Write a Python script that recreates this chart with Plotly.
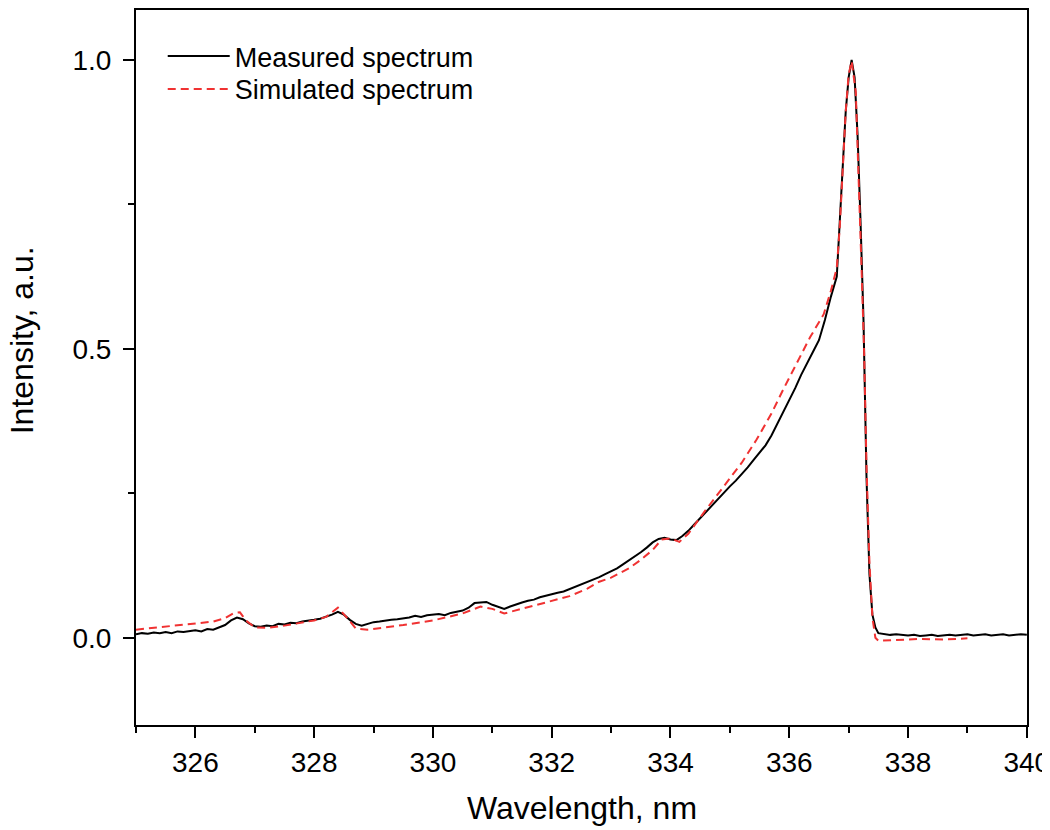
import plotly.graph_objects as go

# Measured spectrum (wavelength nm, normalized intensity)
meas_wl = [325.0, 325.1, 325.2, 325.3, 325.4, 325.5, 325.6, 325.7, 325.8, 325.9,
           326.0, 326.1, 326.2, 326.3, 326.4, 326.5, 326.6, 326.7, 326.8, 326.9,
           327.0, 327.1, 327.2, 327.3, 327.4, 327.5, 327.6, 327.7, 327.8, 327.9,
           328.0, 328.1, 328.2, 328.3, 328.4, 328.5, 328.6, 328.7, 328.8, 328.9,
           329.0, 329.1, 329.2, 329.3, 329.4, 329.5, 329.6, 329.7, 329.8, 329.9,
           330.0, 330.1, 330.2, 330.3, 330.4, 330.5, 330.6, 330.7, 330.8, 330.9,
           331.0, 331.1, 331.2, 331.3, 331.4, 331.5, 331.6, 331.7, 331.8, 331.9,
           332.0, 332.1, 332.2, 332.3, 332.4, 332.5, 332.6, 332.7, 332.8, 332.9,
           333.0, 333.1, 333.2, 333.3, 333.4, 333.5, 333.6, 333.7, 333.8, 333.9,
           334.0, 334.1, 334.2, 334.3, 334.4, 334.5, 334.6, 334.7, 334.8, 334.9,
           335.0, 335.1, 335.2, 335.3, 335.4, 335.5, 335.6, 335.7, 335.8, 335.9,
           336.0, 336.1, 336.2, 336.3, 336.4, 336.5, 336.6, 336.7, 336.75, 336.8,
           336.85, 336.9, 336.95, 337.0, 337.05, 337.1, 337.15, 337.2, 337.25, 337.3,
           337.35, 337.4, 337.45, 337.5, 337.6, 337.7, 337.8, 337.9, 338.0, 338.1,
           338.2, 338.3, 338.4, 338.5, 338.6, 338.7, 338.8, 338.9, 339.0, 339.1,
           339.2, 339.3, 339.4, 339.5, 339.6, 339.7, 339.8, 339.9, 340.0]
meas_int = [0.006, 0.008, 0.007, 0.009, 0.008, 0.010, 0.008, 0.011, 0.010, 0.012,
            0.013, 0.011, 0.015, 0.014, 0.018, 0.022, 0.030, 0.035, 0.032, 0.025,
            0.020, 0.019, 0.021, 0.020, 0.024, 0.023, 0.026, 0.025, 0.028, 0.029,
            0.031, 0.033, 0.036, 0.040, 0.045, 0.040, 0.031, 0.024, 0.021, 0.024,
            0.027, 0.028, 0.030, 0.031, 0.032, 0.033, 0.035, 0.038, 0.036, 0.039,
            0.040, 0.041, 0.039, 0.043, 0.045, 0.047, 0.052, 0.060, 0.061, 0.062,
            0.057, 0.053, 0.050, 0.054, 0.058, 0.061, 0.064, 0.066, 0.070, 0.073,
            0.075, 0.078, 0.080, 0.084, 0.088, 0.092, 0.096, 0.101, 0.105, 0.110,
            0.115, 0.120, 0.127, 0.134, 0.140, 0.148, 0.156, 0.165, 0.171, 0.173,
            0.170, 0.169, 0.176, 0.185, 0.196, 0.207, 0.218, 0.230, 0.241, 0.252,
            0.262, 0.272, 0.283, 0.295, 0.308, 0.320, 0.333, 0.350, 0.370, 0.390,
            0.410, 0.432, 0.455, 0.476, 0.495, 0.515, 0.550, 0.590, 0.607, 0.625,
            0.720, 0.820, 0.910, 0.970, 1.000, 0.970, 0.870, 0.720, 0.550, 0.280,
            0.110, 0.040, 0.018, 0.008, 0.006, 0.005, 0.006, 0.005, 0.004, 0.005,
            0.003, 0.004, 0.005, 0.003, 0.004, 0.005, 0.004, 0.005, 0.006, 0.004,
            0.005, 0.006, 0.004, 0.005, 0.006, 0.004, 0.005, 0.006, 0.005]

# Simulated spectrum
sim_wl = [325.0, 325.5, 326.0, 326.3, 326.5, 326.65, 326.75, 326.85, 327.0, 327.2,
          327.5, 328.0, 328.2, 328.4, 328.55, 328.7, 328.9, 329.5, 330.0, 330.5,
          330.8, 331.0, 331.2, 331.5, 331.8, 332.0, 332.3, 332.6, 332.8, 333.0,
          333.3, 333.5, 333.7, 333.85, 334.0, 334.15, 334.3, 334.6, 334.9, 335.2,
          335.45, 335.7, 335.9, 336.15, 336.35, 336.58, 336.7, 336.8, 336.85, 336.9,
          336.95, 337.0, 337.05, 337.12, 337.17, 337.22, 337.26, 337.3, 337.35, 337.4,
          337.45, 337.5, 337.8, 338.2, 338.6, 339.0]
sim_int = [0.014, 0.019, 0.024, 0.028, 0.034, 0.043, 0.044, 0.030, 0.018, 0.017,
           0.021, 0.030, 0.036, 0.052, 0.035, 0.016, 0.014, 0.022, 0.030, 0.042,
           0.054, 0.050, 0.042, 0.050, 0.058, 0.063, 0.072, 0.085, 0.097, 0.104,
           0.120, 0.135, 0.152, 0.170, 0.172, 0.166, 0.180, 0.222, 0.262, 0.303,
           0.343, 0.388, 0.430, 0.480, 0.520, 0.560, 0.600, 0.640, 0.710, 0.810,
           0.910, 0.975, 0.998, 0.945, 0.800, 0.630, 0.496, 0.300, 0.130, 0.035,
           0.000, -0.005, -0.004, -0.002, -0.003, -0.001]

x_ticks = [326, 328, 330, 332, 334, 336, 338, 340]
y_ticks = [0.0, 0.5, 1.0]
y_tick_labels = ["0.0", "0.5", "1.0"]

FONT = "Arial, Liberation Sans, sans-serif"

fig = go.Figure()
fig.add_trace(go.Scatter(x=meas_wl, y=meas_int, mode="lines", name="Measured spectrum",
                         line=dict(color="black", width=2), legend="legend"))
fig.add_trace(go.Scatter(x=sim_wl, y=sim_int, mode="lines", name="Simulated spectrum",
                         line=dict(color="rgb(240,50,50)", width=2, dash="8px,5px"),
                         legend="legend2"))

axis_common = dict(showline=True, linecolor="black", linewidth=2, mirror=True,
                   ticks="outside", ticklen=11, tickwidth=2, tickcolor="black",
                   showgrid=False, zeroline=False, ticklabeloverflow="allow",
                   tickfont=dict(family=FONT, size=28, color="black"))

fig.update_xaxes(range=[325, 340.003], tickvals=x_ticks,
                 minor=dict(dtick=1, ticks="outside", ticklen=6, tickwidth=2, tickcolor="black", showgrid=False),
                 **axis_common)
fig.update_yaxes(range=[-0.151, 1.0865], tickvals=y_ticks, ticktext=y_tick_labels,
                 ticklabelstandoff=6,
                 minor=dict(dtick=0.25, ticks="outside", ticklen=6, tickwidth=2, tickcolor="black", showgrid=False),
                 **axis_common)

legend_style = dict(xanchor="left", yanchor="top", itemwidth=62,
                    bgcolor="rgba(0,0,0,0)", font=dict(family=FONT, size=27, color="black"))

fig.update_layout(
    width=1042, height=822,
    margin=dict(l=128, r=22, t=0, b=105),
    paper_bgcolor="white", plot_bgcolor="white",
    font=dict(family=FONT, color="black"),
    showlegend=True,
    legend=dict(x=0.030, y=0.9693, **legend_style),
    legend2=dict(x=0.030, y=0.9233, **legend_style),
    annotations=[
        dict(text="Wavelength, nm", xref="paper", yref="paper", x=0.5, y=-0.1158,
             xanchor="center", yanchor="middle", showarrow=False,
             font=dict(family=FONT, size=32, color="black")),
        dict(text="Intensity, a.u.", xref="paper", yref="paper", x=-0.128, y=0.538,
             xanchor="center", yanchor="middle", textangle=-90, showarrow=False,
             font=dict(family=FONT, size=32, color="black")),
    ],
)

fig.write_html("out.html")
